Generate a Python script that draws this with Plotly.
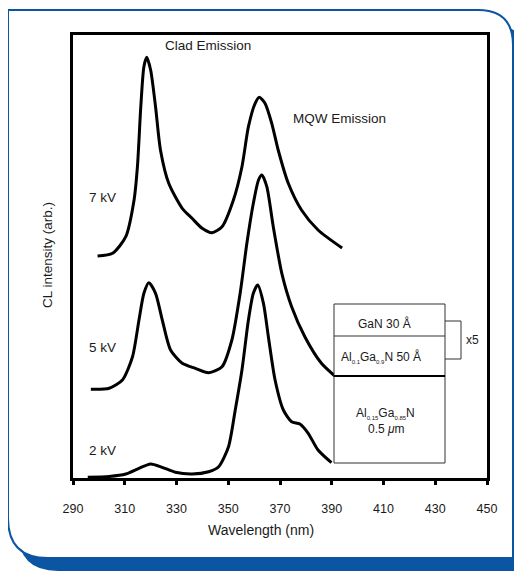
import plotly.graph_objects as go

# ---------------- data ----------------
wl_7kv = [299.5, 305.3, 310.4, 313.6, 314.9, 316.2, 317.4, 318.5, 320.0, 321.9, 323.8, 327.0,
          332.2, 336.0, 339.9, 343.7, 347.6, 352.0, 355.3, 357.8, 360.4, 362.0, 364.2, 366.8,
          369.3, 373.2, 378.3, 384.7, 394.0]
cl_7kv = [223, 225.7, 242.3, 279, 312.3, 372.3, 412.3, 421.7, 409, 372.3, 329, 295.7,
          270.7, 260.7, 250.7, 246.3, 252.3, 279, 312.3, 352.3, 375.7, 381.7, 375.7, 355.7,
          329, 295.7, 269, 249, 231]

wl_5kv = [296.9, 304.0, 309.1, 313.0, 315.5, 317.4, 319.3, 321.9, 324.5, 327.7, 332.2, 337.3,
          342.4, 347.6, 351.4, 354.6, 357.2, 359.7, 361.7, 363.0, 364.9, 367.4, 370.7, 374.5,
          379.6, 386.0, 391.2]
cl_5kv = [89.7, 90.7, 99, 122.3, 159, 185.7, 196.3, 185.7, 159, 129, 115.7, 110.7,
          106.3, 112.3, 139, 185.7, 235.7, 275.7, 299, 304, 292.3, 252.3, 205.7, 172.3,
          142.3, 115.7, 103]

wl_2kv = [295.7, 304.0, 310.4, 315.5, 320.0, 324.5, 329.6, 336.0, 342.4, 346.3, 350.1, 352.7,
          355.3, 357.8, 359.7, 361.4, 363.6, 365.5, 368.1, 371.3, 374.5, 377.7, 380.9, 384.7,
          389.9]
cl_2kv = [1.8, 2.6, 5, 10.7, 15, 11.7, 6.7, 5, 7.3, 12.3, 32.3, 69,
          109, 159, 185.7, 194, 175.7, 142.3, 99, 69, 57.3, 55, 45.7, 29,
          16.3]

x_ticks = [290, 310, 330, 350, 370, 390, 410, 430, 450]
series_labels = ["7 kV", "5 kV", "2 kV"]

# ---------------- geometry helpers ----------------
OFF = 8                      # page body margin of the browser
W, H = 522 - OFF, 572 - OFF
PX0, PX1, PY0, PY1 = 73, 487, 35, 478   # plot area in window pixels
L, R, T, B = PX0 - OFF, W - (PX1 - OFF), PY0 - OFF, H - (PY1 - OFF)
PW = W - L - R
PH = H - T - B
BLUE = "#0b55a3"
FONT = "Liberation Sans, Arial, Helvetica, sans-serif"


def fx(x):
    return (x - OFF - L) / PW


def fy(y):
    return (H - B - (y - OFF)) / PH


def path(cmds, close=True):
    out = []
    for c in cmds:
        op = c[0]
        pts = c[1:]
        s = op
        for i in range(0, len(pts), 2):
            s += " %.5f,%.5f" % (fx(pts[i]), fy(pts[i + 1]))
        out.append(s)
    return " ".join(out) + (" Z" if close else "")


fig = go.Figure()
for xs, ys in [(wl_7kv, cl_7kv), (wl_5kv, cl_5kv), (wl_2kv, cl_2kv)]:
    fig.add_trace(go.Scatter(x=xs, y=ys, mode="lines", showlegend=False,
                             line=dict(color="black", width=3, shape="spline", smoothing=0.7),
                             hoverinfo="skip"))

shapes = []
# shadow of the card
shapes.append(dict(type="path", xref="paper", yref="paper", layer="below",
                   path=path([("M", 18, 24), ("L", 488, 24), ("Q", 528, 24, 528, 62),
                              ("L", 528, 571), ("L", 58, 571), ("Q", 18, 571, 18, 531)]),
                   fillcolor=BLUE, line=dict(width=0)))
# the card
shapes.append(dict(type="path", xref="paper", yref="paper", layer="below",
                   path=path([("M", 8, 10), ("L", 478, 10), ("Q", 513, 10, 513, 45),
                              ("L", 513, 558), ("L", 48, 558), ("Q", 8, 558, 8, 518)]),
                   fillcolor="white", line=dict(color=BLUE, width=2)))
# layer structure inset
box_line = dict(color="#333333", width=1)
shapes.append(dict(type="rect", xref="paper", yref="paper", x0=fx(334), x1=fx(445),
                   y0=fy(304), y1=fy(463), line=box_line, fillcolor="white", layer="above"))
shapes.append(dict(type="line", xref="paper", yref="paper", x0=fx(334), x1=fx(445),
                   y0=fy(336), y1=fy(336), line=box_line))
shapes.append(dict(type="line", xref="paper", yref="paper", x0=fx(334), x1=fx(445),
                   y0=fy(376), y1=fy(376), line=dict(color="black", width=2)))
shapes.append(dict(type="path", xref="paper", yref="paper",
                   path=path([("M", 445, 321), ("L", 461, 321), ("L", 461, 359), ("L", 445, 359)],
                             close=False),
                   line=box_line))

ann = []


def text(t, x, y, size=13, xanchor="center", angle=0):
    ann.append(dict(text=t, x=fx(x), y=fy(y), xref="paper", yref="paper", showarrow=False,
                    xanchor=xanchor, yanchor="middle", textangle=angle,
                    font=dict(family=FONT, size=size, color="#1a1a1a")))


text("Clad Emission", 208, 46, 13.5)
text("MQW Emission", 339, 118, 13.5)
text(series_labels[0], 87, 198, 13.5, "left")
text(series_labels[1], 87, 347, 13.5, "left")
text(series_labels[2], 87, 450, 13.5, "left")
text("CL intensity (arb.)", 47, 255, 13.5, angle=-90)
text("Wavelength (nm)", 261, 530, 14)
text("GaN 30 Å", 384, 323, 12)
sub = '<sub><span style="font-size:6px">%s</span></sub>'
text("Al" + sub % "0.1" + "Ga" + sub % "0.9" + "N 50 Å", 381, 357, 12)
text("Al" + sub % "0.15" + "Ga" + sub % "0.85" + "N", 385, 413, 12)
text("0.5 <i>μ</i>m", 386, 429, 12)
text("x5", 472, 340, 12)

fig.update_layout(
    width=W, height=H, autosize=False,
    margin=dict(l=L, r=R, t=T, b=B, pad=0),
    paper_bgcolor="white", plot_bgcolor="rgba(0,0,0,0)",
    shapes=shapes, annotations=ann, showlegend=False,
    xaxis=dict(range=[290, 450], tickvals=x_ticks, ticktext=[str(v) for v in x_ticks],
               ticks="outside", ticklen=4, tickwidth=3, tickcolor="black",
               showline=True, linewidth=3, linecolor="black", mirror=True,
               showgrid=False, zeroline=False, ticklabelstandoff=13,
               tickfont=dict(family=FONT, size=12.5, color="#1a1a1a")),
    xaxis2=dict(range=[290, 450], overlaying="x", anchor="y", side="bottom",
                tickvals=x_ticks, ticks="inside", ticklen=4, tickwidth=3, tickcolor="black",
                showticklabels=False, showline=False, showgrid=False, zeroline=False),
    yaxis=dict(range=[1, 444], showticklabels=False, ticks="", showline=True, linewidth=3,
               linecolor="black", mirror=True, showgrid=False, zeroline=False),
)

fig.write_html("out.html")
